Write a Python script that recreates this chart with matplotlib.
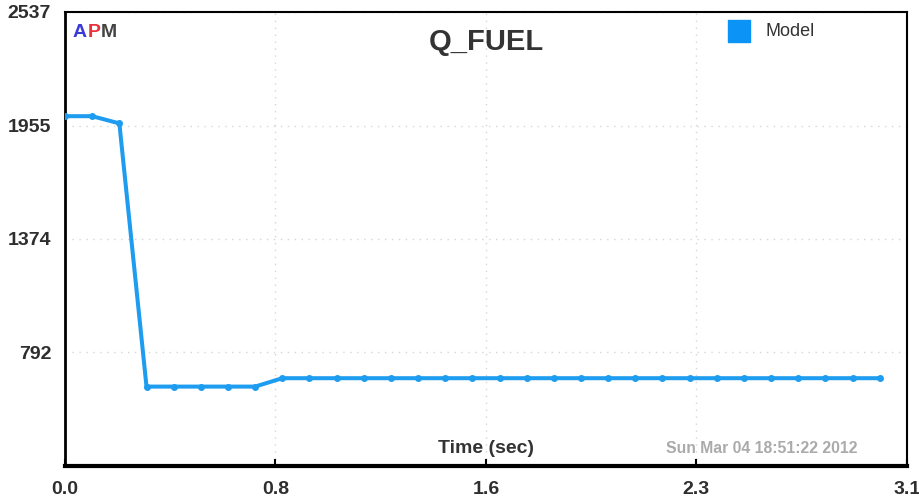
import numpy as np
import matplotlib.pyplot as plt

plt.rcParams['font.family'] = ['Liberation Sans', 'DejaVu Sans']

# model output, sampled every 0.1 s
time_sec = [0.0, 0.1, 0.2, 0.3, 0.4, 0.5, 0.6, 0.7, 0.8, 0.9, 1.0,
            1.1, 1.2, 1.3, 1.4, 1.5, 1.6, 1.7, 1.8, 1.9, 2.0,
            2.1, 2.2, 2.3, 2.4, 2.5, 2.6, 2.7, 2.8, 2.9, 3.0]
q_fuel = [2003, 2003, 1966, 617, 617, 617, 617, 617, 660, 660, 660,
          660, 660, 660, 660, 660, 660, 660, 660, 660, 660,
          660, 660, 660, 660, 660, 660, 660, 660, 660, 660]

x_ticks = [0.0, 0.775, 1.55, 2.325, 3.1]
x_labels = ['0.0', '0.8', '1.6', '2.3', '3.1']
y_ticks = [792, 1374, 1955, 2537]
y_labels = ['792', '1374', '1955', '2537']

line_color = '#1e9cf0'

fig = plt.figure(figsize=(9.2, 5), dpi=100)
ax = fig.add_axes([0.0707, 0.068, 0.915, 0.908])

ax.plot(time_sec, q_fuel, color=line_color, lw=2.9, marker='o', ms=4,
        solid_joinstyle='round', zorder=3)

ax.set_xlim(0, 3.1)
ax.set_ylim(210, 2537)
ax.set_xticks(x_ticks)
ax.set_xticklabels(x_labels)
ax.set_yticks(y_ticks)
ax.set_yticklabels(y_labels)

for lab in ax.get_xticklabels() + ax.get_yticklabels():
    lab.set_fontweight('bold')
    lab.set_fontsize(14)
    lab.set_color('#2e2e2e')

ax.tick_params(axis='x', direction='in', length=5, width=1.5, pad=11)
ax.tick_params(axis='y', length=0, pad=10)

ax.grid(True, color='#d6d6d6', linestyle=(0, (1, 4)), lw=1)

ax.spines['bottom'].set_linewidth(3)
ax.spines['left'].set_linewidth(2)
ax.spines['top'].set_linewidth(1.5)
ax.spines['right'].set_linewidth(1.5)

# title and labels drawn inside the plot area
ax.text(0.5, 0.935, 'Q_FUEL', transform=ax.transAxes, ha='center', va='center',
        fontsize=21, fontweight='bold', color='#333333')
ax.text(0.009, 0.955, 'A', transform=ax.transAxes, ha='left', va='center',
        fontsize=14, fontweight='bold', color='#3b3bd6')
ax.text(0.0265, 0.955, 'P', transform=ax.transAxes, ha='left', va='center',
        fontsize=14, fontweight='bold', color='#e8323c')
ax.text(0.0425, 0.955, 'M', transform=ax.transAxes, ha='left', va='center',
        fontsize=14, fontweight='bold', color='#444444')
ax.text(0.5, 0.028, 'Time (sec)', transform=ax.transAxes, ha='center',
        va='baseline', fontsize=14, fontweight='bold', color='#333333')
ax.text(0.941, 0.028, 'Sun Mar 04 18:51:22 2012', transform=ax.transAxes,
        ha='right', va='baseline', fontsize=11.3, fontweight='bold',
        color='#aaaaaa')

# legend: square swatch plus label
ax.scatter([0.801], [0.958], transform=ax.transAxes, marker='s', s=270,
           color='#0b94f5', clip_on=False, zorder=4)
ax.text(0.832, 0.958, 'Model', transform=ax.transAxes, ha='left',
        va='center', fontsize=13, color='#333333')

fig.savefig('out.png', dpi=100)
